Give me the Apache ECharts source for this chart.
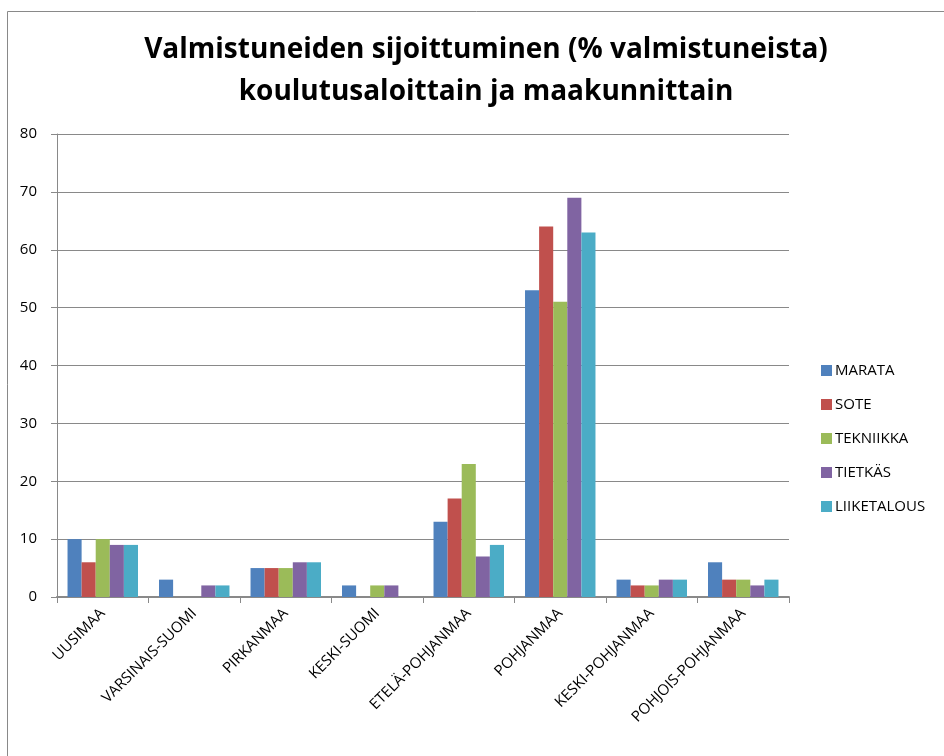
<!DOCTYPE html>
<html>
<head>
<meta charset="utf-8">
<script src="https://cdn.jsdelivr.net/npm/echarts@6/dist/echarts.min.js"></script>
<style>
  html, body { margin: 0; padding: 0; background: #fff; }
  #main { width: 944px; height: 756px; }
</style>
</head>
<body>
<div id="main"></div>
<script>
// maakunnat
const categories = ['UUSIMAA', 'VARSINAIS-SUOMI', 'PIRKANMAA', 'KESKI-SUOMI', 'ETELÄ-POHJANMAA', 'POHJANMAA', 'KESKI-POHJANMAA', 'POHJOIS-POHJANMAA'];

// koulutusalat
const marata = [10, 3, 5, 2, 13, 53, 3, 6];
const sote = [6, 0, 5, 0, 17, 64, 2, 3];
const tekniikka = [10, 0, 5, 2, 23, 51, 2, 3];
const tietkas = [9, 2, 6, 2, 7, 69, 3, 2];
const liiketalous = [9, 2, 6, 0, 9, 63, 3, 3];

const seriesNames = ['MARATA', 'SOTE', 'TEKNIIKKA', 'TIETKÄS', 'LIIKETALOUS'];
const seriesData = [marata, sote, tekniikka, tietkas, liiketalous];
const colors = ['#4F81BD', '#C0504D', '#9BBB59', '#8064A2', '#4BACC6'];

const yTicks = { min: 0, max: 80, interval: 10 };

let myChart = echarts.init(document.getElementById('main'));

let series = [];
for (let i = 0; i < seriesNames.length; i++) {
    series.push({
        name: seriesNames[i],
        type: 'bar',
        data: seriesData[i],
        barGap: 0,
        barCategoryGap: '23%',
        itemStyle: {
            color: colors[i]
        }
    });
}

let option = {
    animation: false,
    textStyle: { fontFamily: 'Open Sans' },
    title: {
        text: 'Valmistuneiden sijoittuminen (% valmistuneista)\nkoulutusaloittain ja maakunnittain',
        left: 481,
        top: 24,
        textAlign: 'center',
        textStyle: {
            fontFamily: 'Open Sans',
            fontSize: 28,
            fontWeight: 'bold',
            color: '#000',
            lineHeight: 42
        }
    },
    graphic: [{
        type: 'rect',
        shape: { x: 7.5, y: 11.5, width: 1000, height: 1000 },
        style: { fill: 'none', stroke: '#898989', lineWidth: 1 },
        silent: true,
        z: -1
    }],
    legend: {
        orient: 'vertical',
        left: 816,
        top: 358,
        itemWidth: 11,
        itemHeight: 11,
        itemGap: 19,
        icon: 'rect',
        textStyle: {
            fontFamily: 'Open Sans',
            fontSize: 15,
            color: '#000',
            padding: [0, 0, 0, -2]
        }
    },
    grid: {
        left: 57,
        right: 155,
        top: 134,
        bottom: 159
    },
    xAxis: {
        type: 'category',
        data: categories,
        axisLine: {
            lineStyle: { color: '#898989', width: 2 }
        },
        axisTick: {
            show: true,
            length: 6,
            lineStyle: { color: '#898989', width: 1 }
        },
        axisLabel: {
            interval: 0,
            rotate: 45,
            margin: 14,
            fontSize: 15,
            color: '#000',
            fontFamily: 'Open Sans'
        }
    },
    yAxis: {
        type: 'value',
        min: yTicks.min,
        max: yTicks.max,
        interval: yTicks.interval,
        axisLine: {
            show: true,
            lineStyle: { color: '#898989', width: 1 }
        },
        axisTick: {
            show: true,
            inside: false,
            length: 6,
            lineStyle: { color: '#898989' }
        },
        axisLabel: {
            fontSize: 15,
            color: '#000',
            margin: 20,
            fontFamily: 'Open Sans'
        },
        splitLine: {
            show: true,
            lineStyle: { color: '#898989', width: 1 }
        }
    },
    series: series
};

myChart.setOption(option);
</script>
</body>
</html>
